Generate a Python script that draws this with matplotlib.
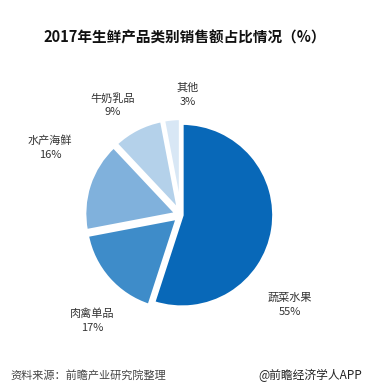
import matplotlib
matplotlib.use('Agg')
import matplotlib.pyplot as plt

plt.rcParams['font.family'] = ['Noto Sans CJK SC', 'DejaVu Sans']

categories = ['蔬菜水果', '肉禽单品', '水产海鲜', '牛奶乳品', '其他']
shares = [55, 17, 16, 9, 3]
colors = ['#0868b8', '#3e8cc9', '#80b1dc', '#b4d1ea', '#d8e7f5']
# label block centres in pixels (x, y from top)
label_px = [(290, 305), (92, 321), (50, 148), (113, 105), (188, 95)]

W, H = 370, 385
cx, cy, r = 181, 215, 92

fig = plt.figure(figsize=(W / 100, H / 100), dpi=100)
ax = fig.add_axes([0, 0, 1, 1])

ax.pie(shares, colors=colors, startangle=90, counterclock=False,
       explode=[0.01, 0.05, 0.05, 0.05, 0.05],
       wedgeprops=dict(edgecolor='white', linewidth=2.5))

# pie() resets the limits, so fix them afterwards (1 data unit = r pixels)
ax.set_xlim(-cx / r, (W - cx) / r)
ax.set_ylim(-(H - cy) / r, cy / r)
ax.set_aspect('equal', adjustable='box')
ax.axis('off')

for name, val, (px, py) in zip(categories, shares, label_px):
    ax.text((px - cx) / r, (cy - py) / r, f'{name}\n{val}%', ha='center', va='center',
            fontsize=8, color='#333333', linespacing=1.5)

fig.text(0.5, 1 - 37 / H, '2017年生鲜产品类别销售额占比情况（%）', ha='center', va='center',
         fontsize=10.5, fontweight='bold', color='#111111')
fig.text(10 / W, 1 - 375 / H, '资料来源：前瞻产业研究院整理', ha='left', va='center',
         fontsize=8, color='#444444', style='italic')
fig.text(362 / W, 1 - 375 / H, '@前瞻经济学人APP', ha='right', va='center',
         fontsize=8.5, color='#222222')

fig.savefig('out.png', dpi=100)
